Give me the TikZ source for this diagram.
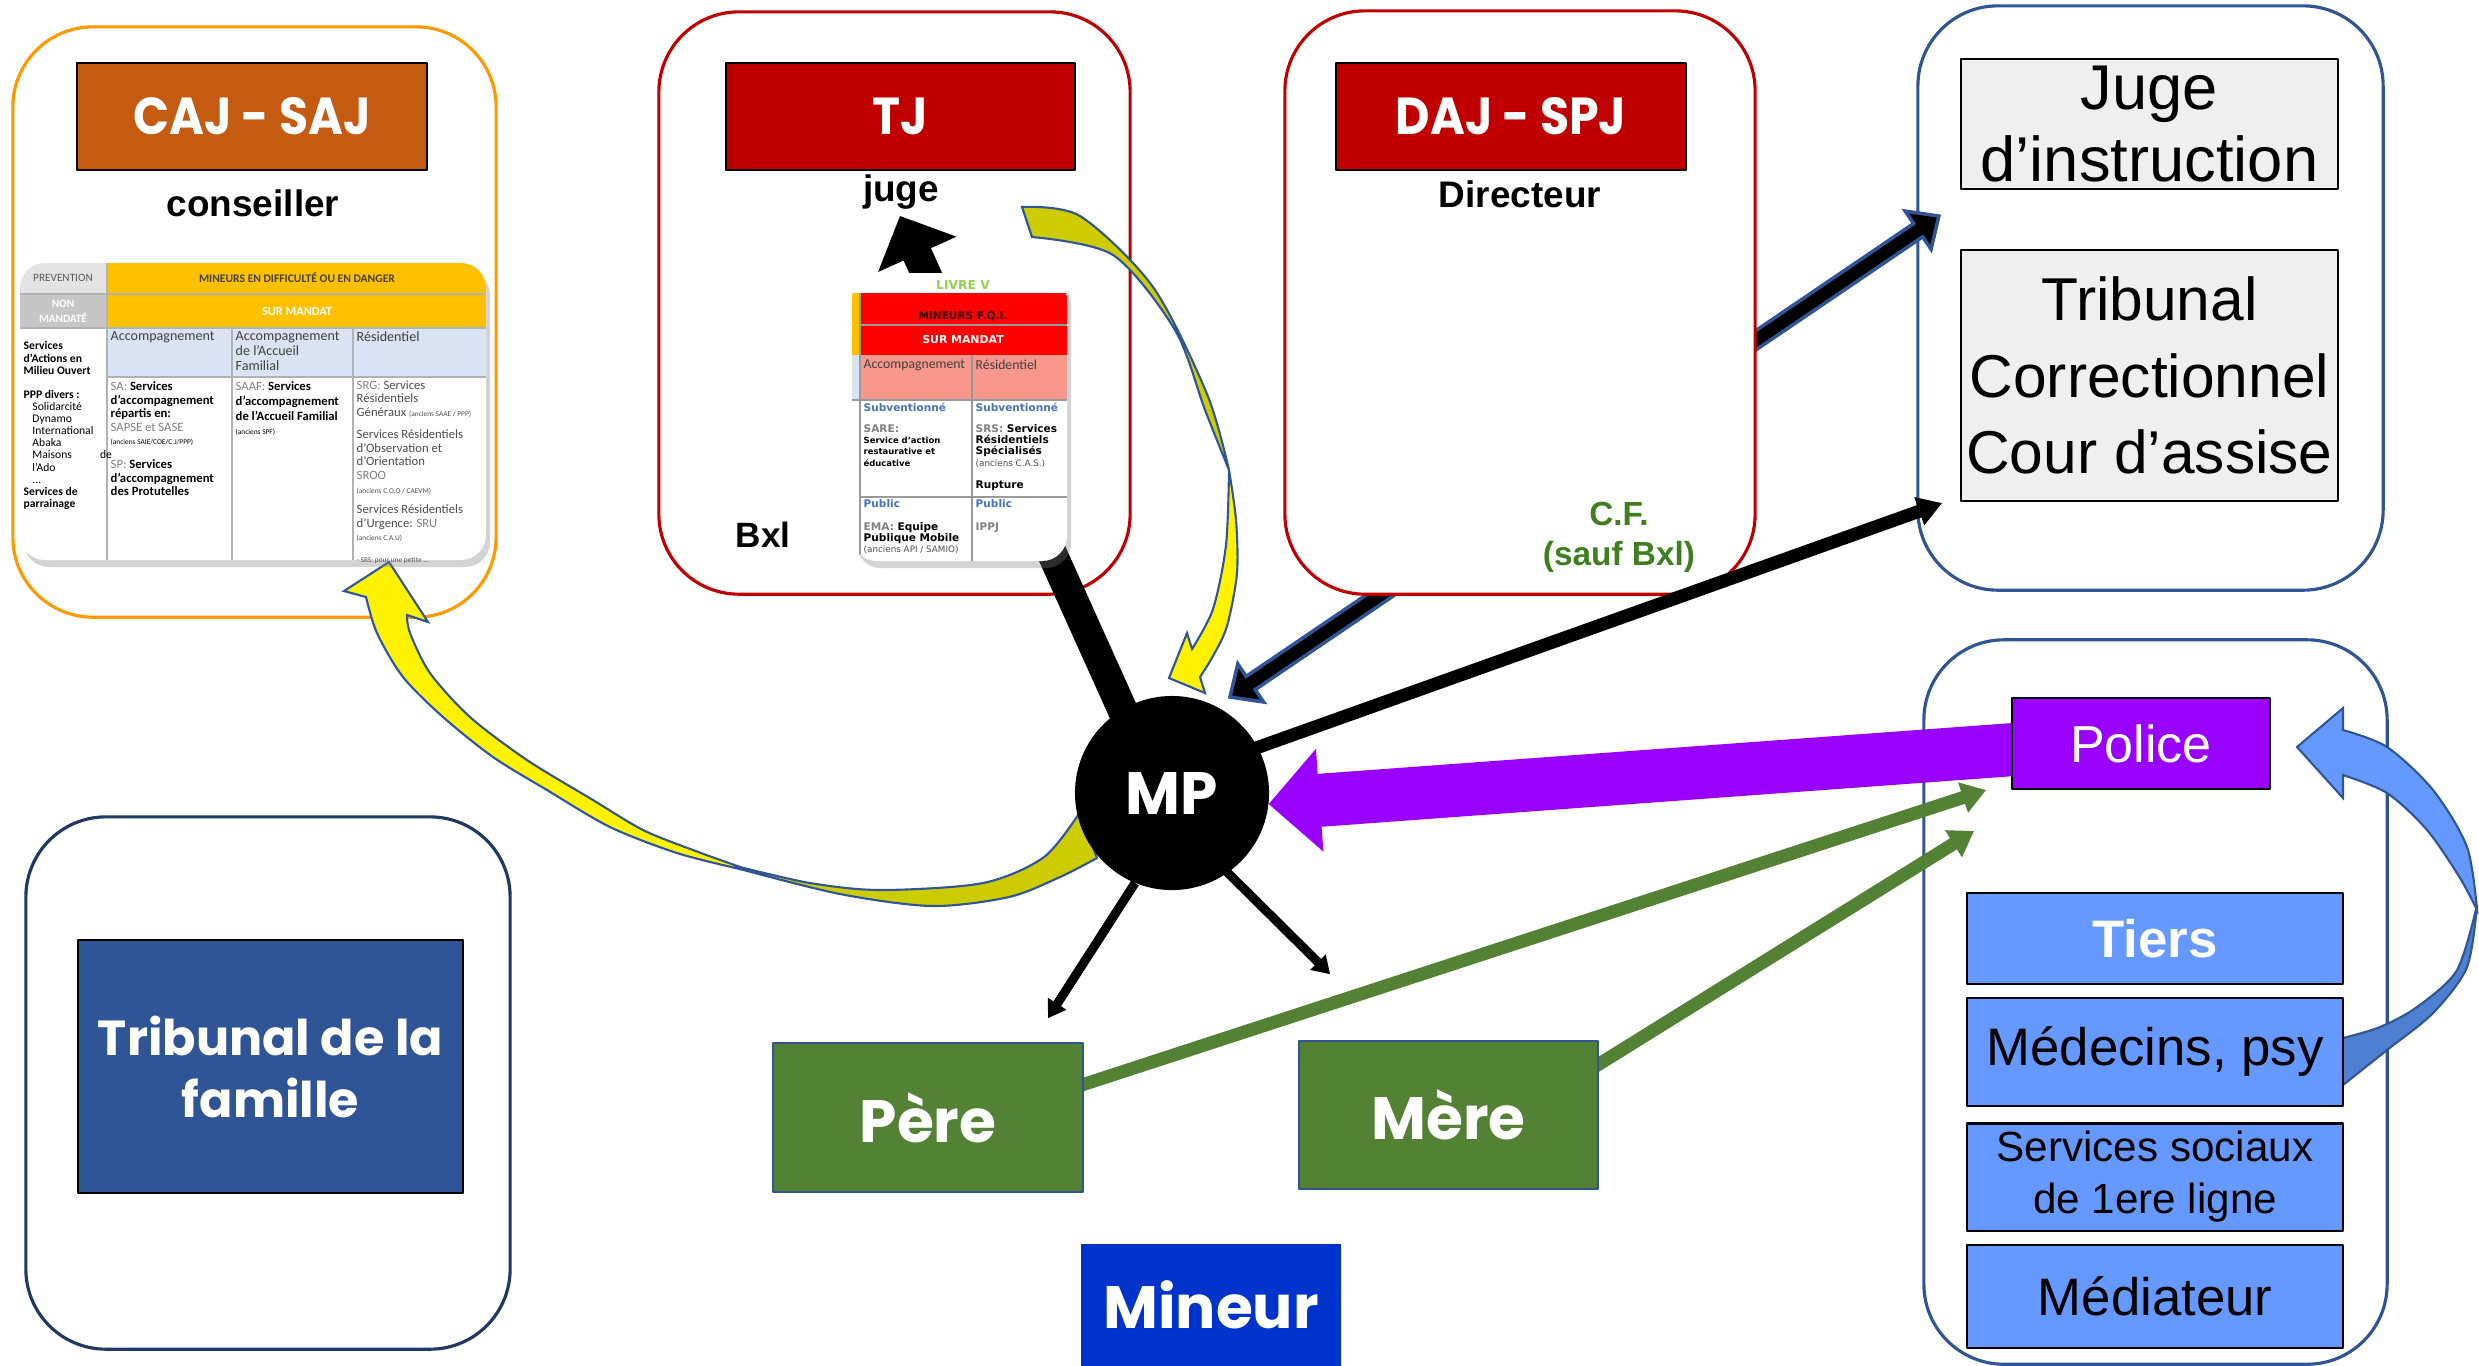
\documentclass[tikz,border=0pt]{standalone}
\usepackage{fontspec}
\setmainfont{Liberation Sans}
\newfontfamily\geofont{Poppins}
\newfontfamily\geonarrow{Poppins}[FakeStretch=0.91]
\newfontfamily\tabfont{Carlito}
\newfontfamily\verfont{DejaVu Sans}
\usetikzlibrary{calc,shadows}

\definecolor{cajorange}{HTML}{C55A11}
\definecolor{cajedge}{HTML}{FF9900}
\definecolor{tjred}{HTML}{C00000}
\definecolor{edgeblue}{HTML}{2F5597}
\definecolor{famnavy}{HTML}{203864}
\definecolor{famblue}{HTML}{2F5597}
\definecolor{famgreen}{HTML}{548235}
\definecolor{minblue}{HTML}{0033CC}
\definecolor{polpurple}{HTML}{9900FF}
\definecolor{tierblue}{HTML}{6699FF}
\definecolor{curvdark}{HTML}{4F7FD0}
\definecolor{boxgray}{HTML}{EFEFEF}
\definecolor{cfgreen}{HTML}{3F7F1F}
\definecolor{yelback}{HTML}{CCCC00}
\definecolor{tabgold}{HTML}{FFC000}
\definecolor{tabpale}{HTML}{DAE3F3}
\definecolor{tabsalmon}{HTML}{F8978C}
\definecolor{livregreen}{HTML}{92D050}
\definecolor{subblue}{HTML}{4472C4}

\pgfdeclarelayer{back}
\pgfdeclarelayer{arrows}
\pgfsetlayers{back,arrows,main}

% block arrow #2 -> #3 : shaft half width #4, head half width #5, head length #6
\newcommand\blockarrow[6][]{%
  \path ($(#3)!#6!(#2)$) coordinate (bah);
  \filldraw[#1] ($(#2)!#4!90:(#3)$) -- ($(bah)!#4!-90:(#2)$) -- ($(bah)!#5!-90:(#2)$)
    -- (#3) -- ($(bah)!#5!90:(#2)$) -- ($(bah)!#4!90:(#2)$) -- ($(#2)!#4!-90:(#3)$) -- cycle;
}
% same with a head at both ends
\newcommand\dblarrow[6][]{%
  \path ($(#3)!#6!(#2)$) coordinate (bah) ($(#2)!#6!(#3)$) coordinate (bat);
  \filldraw[#1] (#2) -- ($(bat)!#5!90:(#3)$) -- ($(bat)!#4!90:(#3)$) -- ($(bah)!#4!-90:(#2)$)
    -- ($(bah)!#5!-90:(#2)$) -- (#3) -- ($(bah)!#5!90:(#2)$) -- ($(bah)!#4!90:(#2)$)
    -- ($(bat)!#4!-90:(#3)$) -- ($(bat)!#5!-90:(#3)$) -- cycle;
}
\newcommand\tsm{\fontsize{2.1}{3}\selectfont}

\begin{document}
\begin{tikzpicture}[x=0.01cm, y=-0.01cm, line join=round,
  container/.style={draw, rounded corners=0.8cm, line width=0.9pt, inner sep=0},
  header/.style={draw=black, line width=0.6pt, text=white, inner sep=0,
    font=\geonarrow\bfseries\fontsize{14.8}{17}\selectfont, minimum width=3.5cm, minimum height=1.07cm},
  role/.style={inner sep=0, font=\bfseries\fontsize{10.5}{12}\selectfont},
  greybox/.style={draw=black, fill=boxgray, line width=0.6pt, inner sep=0, minimum width=3.77cm, align=center},
  family/.style={fill=famgreen, draw=edgeblue, line width=0.5pt, text=white, inner sep=0,
    font=\geofont\bfseries\fontsize{17}{20}\selectfont},
  pbox/.style={draw=black, fill=tierblue, line width=0.6pt, inner sep=0, minimum width=3.76cm,
    align=center, font=\fontsize{15}{17}\selectfont},
  ttext/.style={anchor=north west, inner sep=0, align=left},
  curved/.style={draw=edgeblue, line width=0.6pt},
]
\useasboundingbox (0,0) rectangle (2479,1365);

% rounded frames
\begin{pgfonlayer}{back}
\node[container, draw=cajedge, minimum width=4.83cm, minimum height=5.90cm] (cajbox) at (254.5,322) {};
\node[container, draw=tjred, minimum width=4.71cm, minimum height=5.82cm] (tjbox) at (894.5,303) {};
\node[container, draw=edgeblue, minimum width=4.65cm, minimum height=5.84cm] (jbox) at (2150.5,298) {};
\node[container, draw=famnavy, minimum width=4.84cm, minimum height=5.32cm] (fambox) at (268,1083) {};
\node[container, draw=edgeblue, minimum width=4.63cm, minimum height=7.24cm] (polbox) at (2155.5,1002) {};
\end{pgfonlayer}
\node[container, draw=tjred, fill=white, minimum width=4.70cm, minimum height=5.83cm] (dajbox) at (1520,302.5) {};

% headers and roles
\node[header, fill=cajorange] (cajhd) at (252,116.5) {CAJ - SAJ};
\node[header, fill=tjred, minimum width=3.49cm] (tjhd) at (900.5,116.5) {TJ};
\node[header, fill=tjred] (dajhd) at (1511,116.5) {DAJ - SPJ};
\node[role] (cons) at (253,203) {conseiller};
\node[role] (juge) at (901,192) {juge};
\node[role] (dir) at (1520,194) {Directeur};
\node[role, font=\bfseries\fontsize{10}{12}\selectfont] (bxl) at (763,535) {Bxl};
\node[role, text=cfgreen, align=center, font=\bfseries\fontsize{9.5}{11.4}\selectfont] (cf) at (1619,537) {C.F.\\(sauf Bxl)};

\node[greybox, minimum height=1.30cm, font=\fontsize{18}{20.7}\selectfont] (ji) at (2149.5,124) {Juge\\d’instruction};
\node[greybox, minimum height=2.51cm, font=\fontsize{17.2}{21.7}\selectfont] (tc) at (2149.5,375.5) {Tribunal\\Correctionnel\\Cour d’assise};

\node[fill=famblue, draw=black, line width=0.6pt, minimum width=3.85cm, minimum height=2.53cm, text=white,
  align=center, inner sep=0, font=\geofont\bfseries\fontsize{14}{17.6}\selectfont] (famhd) at (270.5,1066.5) {Tribunal de la\\famille};

\node[circle, fill=black, minimum size=1.94cm, inner sep=0, text=white,
  font=\geofont\bfseries\fontsize{17}{20}\selectfont] (mp) at (1172,793) {MP};
\node[family, minimum width=3.10cm, minimum height=1.49cm] (pere) at (928,1117.5) {Père};
\node[family, minimum width=2.99cm, minimum height=1.48cm] (mere) at (1448.5,1115) {Mère};
\node[family, fill=minblue, draw=none, minimum width=2.60cm, minimum height=1.22cm] (mineur) at (1211,1305) {Mineur};

\node[draw=black, fill=polpurple, line width=0.6pt, minimum width=2.58cm, minimum height=0.91cm, text=white,
  inner sep=0, font=\fontsize{14.8}{17}\selectfont] (police) at (2141,743.5) {Police};
\node[pbox, minimum height=0.91cm, text=white, font=\bfseries\fontsize{15}{17}\selectfont] (tiers) at (2155,938.5) {Tiers};
\node[pbox, minimum height=1.08cm] (medec) at (2155,1052) {Médecins, psy};
\node[pbox, minimum height=1.07cm, font=\fontsize{12}{14.8}\selectfont] (sersoc) at (2155,1177) {Services sociaux\\de 1ere ligne};
\node[pbox, minimum height=1.03cm] (mediat) at (2155,1296.5) {Médiateur};

% end points
\coordinate (mpback) at ($(mp.center)+(-12,0)$);
\coordinate (jugetip) at (900,216);
\coordinate (mpne) at ($(mp.center)+(58,-96)$);
\coordinate (jitip) at ($(ji.south west)+(-21,26)$);
\coordinate (mpe) at ($(mp.center)+(84,-45)$);
\coordinate (tctip) at ($(tc.south west)+(-18,1)$);
\coordinate (poltail) at ($(police.west)+(30,4)$);
\coordinate (poltip) at ($(mp.east)+(-1,11)$);
\coordinate (mpsw) at ($(mp.center)+(-37,90)$);
\coordinate (peretip) at ($(pere.north)+(120,-24)$);
\coordinate (mpse) at ($(mp.center)+(55,79)$);
\coordinate (meretip) at ($(mere.north west)+(32,-66)$);
\coordinate (peretail) at ($(pere.east)+(-10,-30)$);
\coordinate (polsw1) at ($(police.south west)+(-25,0)$);
\coordinate (meretail) at ($(mere.north east)+(-8,29)$);
\coordinate (polsw2) at ($(police.south west)+(-37,41)$);

\blockarrow[fill=black, draw=none]{mpe}{tctip}{0.065cm}{0.15cm}{0.24cm}

\begin{pgfonlayer}{arrows}
\blockarrow[fill=black, draw=none]{mpback}{jugetip}{0.15cm}{0.43cm}{0.42cm}
\dblarrow[fill=black, draw=edgeblue, line width=1pt]{mpne}{jitip}{0.08cm}{0.23cm}{0.25cm}
\blockarrow[fill=polpurple, draw=none]{poltail}{poltip}{0.265cm}{0.515cm}{0.51cm}
\blockarrow[fill=black, draw=none]{mpsw}{peretip}{0.045cm}{0.11cm}{0.17cm}
\blockarrow[fill=black, draw=none]{mpse}{meretip}{0.045cm}{0.11cm}{0.17cm}
\blockarrow[fill=famgreen, draw=none]{peretail}{polsw1}{0.065cm}{0.16cm}{0.24cm}
\blockarrow[fill=famgreen, draw=none]{meretail}{polsw2}{0.065cm}{0.16cm}{0.24cm}

% yellow curved arrow, juge -> MP
\filldraw[curved, fill=yelback] plot[smooth] coordinates {(1022,207) (1080,216) (1153,287) (1207,394) (1229,470)}
  -- plot[smooth] coordinates {(1229,470) (1205,410) (1175,330) (1113,255) (1032,237)} -- cycle;
\filldraw[curved, fill=yellow] plot[smooth] coordinates {(1229,470) (1236,520) (1237,573) (1227,626) (1213,656) (1200,677)}
  -- (1205,693) -- (1169,678) -- (1187,633) -- (1192,649)
  -- plot[smooth] coordinates {(1192,649) (1213,609) (1226,545) (1229,470)} -- cycle;
% yellow curved arrow, MP -> CAJ
\filldraw[curved, fill=yelback] plot[smooth] coordinates {(740,867) (810,883) (881,890) (983,883) (1044,857) (1080,812)}
  -- (1097,858) -- plot[smooth] coordinates {(1097,858) (1060,877) (1009,897) (932,906) (840,894) (740,869)} -- cycle;
\filldraw[curved, fill=yellow] plot[smooth] coordinates {(740,869) (677,853) (610,827) (547,790) (493,757) (443,717) (403,677) (377,633) (366,597)}
  -- (344,591) -- (389,562) -- (428,622) -- (407,615)
  -- plot[smooth] coordinates {(407,615) (410,633) (430,673) (470,717) (527,760) (593,800) (643,830) (693,850) (740,867)} -- cycle;
% blue curved arrow, psy -> police
\filldraw[curved, fill=tierblue] (2297,747) -- (2343,708) -- (2343,730)
  -- plot[smooth] coordinates {(2343,730) (2387,747) (2433,790) (2467,847) (2477,910)}
  -- plot[smooth] coordinates {(2477,910) (2460,878) (2427,830) (2387,793) (2343,775)} -- (2343,798) -- cycle;
\filldraw[curved, fill=curvdark] plot[smooth] coordinates {(2477,905) (2467,967) (2433,1013) (2387,1050) (2343,1085)}
  -- (2330,1085) -- (2330,1038)
  -- plot[smooth] coordinates {(2343,1038) (2380,1027) (2417,1007) (2457,970) (2477,905)} -- cycle;
\end{pgfonlayer}

% table CAJ
\path[fill=white, rounded corners=0.25cm, drop shadow={shadow xshift=0.04cm, shadow yshift=-0.07cm, opacity=0.35}] (20,263) rectangle (486,560);
\begin{scope}
\clip[rounded corners=0.25cm] (20,263) rectangle (486,560);
\fill[gray!22] (20,263) rectangle (107,294);
\fill[gray!45] (20,294) rectangle (107,328);
\fill[tabgold] (107,263) rectangle (486,328);
\fill[tabpale] (107,328) rectangle (486,377);
\draw[gray!60, line width=0.3pt] (20,294) -- (486,294) (20,328) -- (486,328) (107,377) -- (486,377)
  (107,263) -- (107,560) (232,328) -- (232,560) (353,328) -- (353,560);
\end{scope}
\node[inner sep=0, text=gray!70!black, font=\tabfont\fontsize{3.2}{3.6}\selectfont] (t1prev) at (63,278) {PREVENTION};
\node[inner sep=0, text=black!85!yellow, font=\tabfont\bfseries\fontsize{3.3}{3.6}\selectfont] (t1mind) at (297,278) {MINEURS EN DIFFICULTÉ OU EN DANGER};
\node[inner sep=0, text=white, align=center, font=\tabfont\bfseries\fontsize{3.2}{4.3}\selectfont] (t1non) at (63,311) {NON\\MANDATÉ};
\node[inner sep=0, text=white, font=\tabfont\bfseries\fontsize{3.5}{4}\selectfont] (t1sur) at (297,311) {SUR MANDAT};
\node[ttext, text=black!75, font=\tabfont\fontsize{4}{4.3}\selectfont] (t1h2) at (110,331) {Accompagnement};
\node[ttext, text=black!75, font=\tabfont\fontsize{4}{4.3}\selectfont] (t1h3) at (235,331) {Accompagnement\\de l’Accueil\\Familial};
\node[ttext, text=black!75, font=\tabfont\fontsize{4}{4.3}\selectfont] (t1h4) at (356,331) {Résidentiel};
\node[ttext, font=\tabfont\fontsize{3.3}{3.45}\selectfont] (t1c1) at (23,341) {\textbf{Services}\\\textbf{d’Actions en}\\\textbf{Milieu Ouvert}\\[3.4pt]
  \textbf{PPP divers :}\\\hspace{2.5pt}Solidarcité\\\hspace{2.5pt}Dynamo\\\hspace{2.5pt}International\\\hspace{2.5pt}Abaka\\
  \hspace{2.5pt}Maisons\hspace{8pt}de\\\hspace{2.5pt}l’Ado\\\hspace{2.5pt}...\\\textbf{Services de}\\\textbf{parrainage}};
\node[ttext, font=\tabfont\fontsize{3.6}{3.85}\selectfont] (t1c2) at (110,381) {\textcolor{gray}{SA:} \textbf{Services}\\\textbf{d’accompagnement}\\
  \textbf{répartis en:}\\\textcolor{gray}{SAPSE et SASE}\\{\tsm(anciens SAIE/COE/C.J/PPP)}\\[3pt]
  \textcolor{gray}{SP:} \textbf{Services}\\\textbf{d’accompagnement}\\\textbf{des Protutelles}};
\node[ttext, font=\tabfont\fontsize{3.6}{4.2}\selectfont] (t1c3) at (235,381) {\textcolor{gray}{SAAF:} \textbf{Services}\\\textbf{d’accompagnement}\\
  \textbf{de l’Accueil Familial}\\{\tsm(anciens SPF)}};
\node[ttext, text=black!70, font=\tabfont\fontsize{3.6}{3.85}\selectfont] (t1c4) at (356,380) {\textcolor{gray}{SRG:} Services\\Résidentiels\\
  Généraux {\tsm(anciens SAAE / PPP)}\\[2.5pt]Services Résidentiels\\d’Observation et\\d’Orientation\\\textcolor{gray}{SROO}\\
  {\tsm(anciens C.O.O / CAEVM)}\\[2pt]Services Résidentiels\\d’Urgence: \textcolor{gray}{SRU}\\{\tsm(anciens C.A.U)}\\[2.5pt]
  {\tsm - SRS: pour une petite ...}};

% table TJ
\path[fill=white, rounded corners=0.25cm, drop shadow={shadow xshift=0.04cm, shadow yshift=-0.07cm, opacity=0.35}] (852,273) rectangle (1067,561);
\begin{scope}
\clip[rounded corners=0.25cm] (852,273) rectangle (1067,561);
\fill[tabgold] (852,293) rectangle (860,355);
\fill[tabpale] (852,355) rectangle (860,400);
\fill[red] (860,293) rectangle (1067,355);
\fill[tabsalmon] (860,355) rectangle (1067,400);
\draw[black!40, line width=0.3pt] (860,325) -- (1067,325) (852,400) -- (1067,400) (860,497) -- (1067,497)
  (860,293) -- (860,561) (972,355) -- (972,561);
\end{scope}
\node[inner sep=0, text=livregreen, font=\verfont\bfseries\fontsize{3.5}{4}\selectfont] (t2livre) at (963,285) {LIVRE V};
\node[inner sep=0, text=black!80!red, font=\verfont\bfseries\fontsize{3}{3.5}\selectfont] (t2fqi) at (963,316) {MINEURS F.Q.I.};
\node[inner sep=0, text=white, font=\verfont\bfseries\fontsize{3.1}{3.5}\selectfont] (t2sur) at (963,340) {SUR MANDAT};
\node[ttext, text=black!75, font=\tabfont\fontsize{3.9}{4.2}\selectfont] (t2h1) at (863,359) {Accompagnement};
\node[ttext, text=black!75, font=\tabfont\fontsize{3.9}{4.2}\selectfont] (t2h2) at (975,359) {Résidentiel};
\node[ttext, font=\verfont\bfseries\fontsize{3}{3.2}\selectfont] (t2c1) at (863,402) {\textcolor{subblue}{Subventionné}\\[2.8pt]
  \textcolor{gray}{SARE:}\\{\fontsize{2.4}{3}\selectfont Service d’action}\\{\fontsize{2.4}{3}\selectfont restaurative et}\\{\fontsize{2.4}{3}\selectfont éducative}};
\node[ttext, font=\verfont\bfseries\fontsize{3}{3.2}\selectfont] (t2c2) at (975,402) {\textcolor{subblue}{Subventionné}\\[2.8pt]
  \textcolor{gray}{SRS:} Services\\Résidentiels\\Spécialisés\\{\mdseries\fontsize{2.5}{3}\selectfont\color{black!70}(anciens C.A.S.)}\\[3.2pt]Rupture};
\node[ttext, font=\verfont\bfseries\fontsize{3}{3.2}\selectfont] (t2c3) at (863,499) {\textcolor{subblue}{Public}\\[3.2pt]
  \textcolor{gray}{EMA:} Equipe\\Publique Mobile\\{\mdseries\fontsize{2.5}{3}\selectfont\color{black!70}(anciens API / SAMIO)}};
\node[ttext, font=\verfont\bfseries\fontsize{3}{3.2}\selectfont] (t2c4) at (975,499) {\textcolor{subblue}{Public}\\[3.2pt]
  \textcolor{gray}{IPPJ}};
\end{tikzpicture}
\end{document}
